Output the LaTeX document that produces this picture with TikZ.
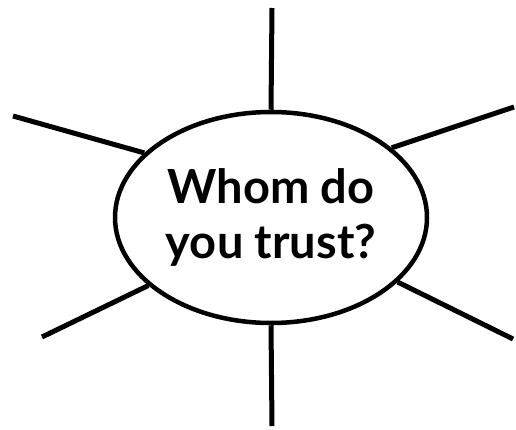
\documentclass[tikz,border=0pt]{standalone}
\usepackage{fontspec}
\setmainfont{Lato}
\usetikzlibrary{shapes.geometric}
\begin{document}
\begin{tikzpicture}[x=1pt,y=-1pt,
  spoke/.style={line width=5pt,black},
  hub/.style={ellipse,draw,line width=4.5pt,minimum width=312pt,minimum height=211pt,inner sep=0pt,align=center,font=\bfseries\fontsize{47}{55}\selectfont}]
\useasboundingbox (0,0) rectangle (516,430);
\node[hub] (c) at (271,217.5) {Whom do\\you trust?};
\coordinate (pt) at (272,8);
\coordinate (pb) at (272,426);
\coordinate (pul) at (13,116);
\coordinate (pur) at (514,107);
\coordinate (pll) at (42,337);
\coordinate (plr) at (513,339);
\draw[spoke] (pt) -- (c.north);
\draw[spoke] (pb) -- (c.south);
\draw[spoke] (pul) -- (c.153);
\draw[spoke] (pur) -- (c.30);
\draw[spoke] (pll) -- (c.209);
\draw[spoke] (plr) -- (c.333);
\end{tikzpicture}
\end{document}
